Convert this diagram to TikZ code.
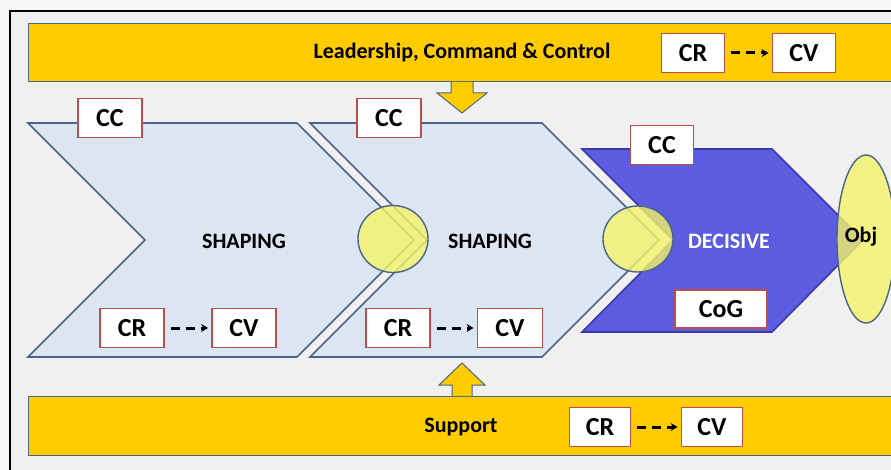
\documentclass[tikz,border=0pt]{standalone}
\usepackage{fontspec}
\setmainfont{Carlito}
\usepackage{tikz}
\usetikzlibrary{arrows.meta}

\definecolor{paper}{HTML}{F0F0F0}
\definecolor{gold}{HTML}{FFCC00}
\definecolor{steel}{HTML}{4A6587}
\definecolor{pale}{HTML}{DCE6F2}
\definecolor{decisive}{HTML}{5C5CE0}
\definecolor{decline}{HTML}{3A3AA8}
\definecolor{lemon}{HTML}{F4F46A}
\definecolor{brick}{HTML}{B9504F}

\tikzset{
	bar/.style = {fill=gold, draw=steel, line width=1pt},
	phase/.style = {fill=pale, draw=steel, line width=1.6pt, line join=miter},
	tag/.style = {draw=brick, fill=white, line width=1.8pt, minimum height=39pt,
		inner sep=0pt, font=\fontsize{26}{28}\selectfont\bfseries},
	joint/.style = {fill=lemon, fill opacity=0.8, draw=steel, line width=1.4pt}
}

\begin{document}
\begin{tikzpicture}[x=1pt, y=-1pt]
	\useasboundingbox (0,0) rectangle (891,470);
	\fill [paper!60!white] (0,0) rectangle (891,470);
	\fill [paper] (10,11) rectangle (891,470);
	\draw [black, line width=1.3pt] (10,472) -- (10,11) -- (895,11);

	% command and support bars
	\draw [bar] (28,24) rectangle (900,82);
	\draw [bar] (28,396) rectangle (900,455);
	\draw [bar, line join=miter] (451,82) -- (451,93) -- (437,93) -- (462,113)
		-- (487,93) -- (473,93) -- (473,82);
	\draw [bar, line join=miter] (452,396) -- (452,385) -- (439,385) -- (462,363)
		-- (485,385) -- (472,385) -- (472,396);

	% phase chevrons
	\draw [phase] (28,123) -- (297,123) -- (414,240) -- (297,357) -- (28,357)
		-- (145,240) -- cycle;
	\draw [phase] (310,123) -- (542,123) -- (659,240) -- (542,357) -- (310,357)
		-- (427,240) -- cycle;
	\draw [phase, fill=decisive, draw=decline] (582,149) -- (772,149) -- (863,240)
		-- (772,332) -- (582,332) -- (673,240) -- cycle;

	% transitions and objective
	\draw [joint] (393,239) ellipse [x radius=35, y radius=33.5];
	\draw [joint] (638,239) ellipse [x radius=35, y radius=33];
	\draw [joint] (866,239) ellipse [x radius=29, y radius=84];

	\begin{scope}[every node/.style={font=\fontsize{22}{24}\selectfont\bfseries}]
		\node (lcc) at (462,53) {Leadership, Command \& Control};
		\node (sup) at (461,427) {Support};
		\node (shape1) at (244,241) {SHAPING};
		\node (shape2) at (490,241) {SHAPING};
		\node [text=white] (dec) at (729,241) {DECISIVE};
		\node (obj) at (861,237) {Obj};
	\end{scope}

	\begin{scope}[every node/.style={tag}]
		\node [minimum width=63pt] (cr0) at (693,53) {CR};
		\node [minimum width=63pt] (cv0) at (804,53) {CV};
		\node [minimum width=64pt] (cc1) at (110,118) {CC};
		\node [minimum width=64pt] (cc2) at (389,118) {CC};
		\node [minimum width=63pt] (cc3) at (662,145) {CC};
		\node [minimum width=64pt] (cr1) at (132,328) {CR};
		\node [minimum width=64pt] (cv1) at (244,328) {CV};
		\node [minimum width=64pt] (cr2) at (398,328) {CR};
		\node [minimum width=65pt] (cv2) at (510,328) {CV};
		\node [minimum width=92pt, minimum height=38pt] (cog) at (721,309) {CoG};
		\node [minimum width=61pt] (cr3) at (600,427) {CR};
		\node [minimum width=61pt] (cv3) at (712,427) {CV};
	\end{scope}

	\begin{scope}[>={Stealth[length=7pt, width=8pt]},
			every edge/.style={draw=black, line width=3pt, dash pattern=on 9pt off 6pt,
				shorten <=6pt, shorten >=3pt}]
		\path [->] (cr0) edge (cv0);
		\path [->] (cr1) edge (cv1);
		\path [->] (cr2) edge (cv2);
		\path [->] (cr3) edge (cv3);
	\end{scope}
\end{tikzpicture}
\end{document}
